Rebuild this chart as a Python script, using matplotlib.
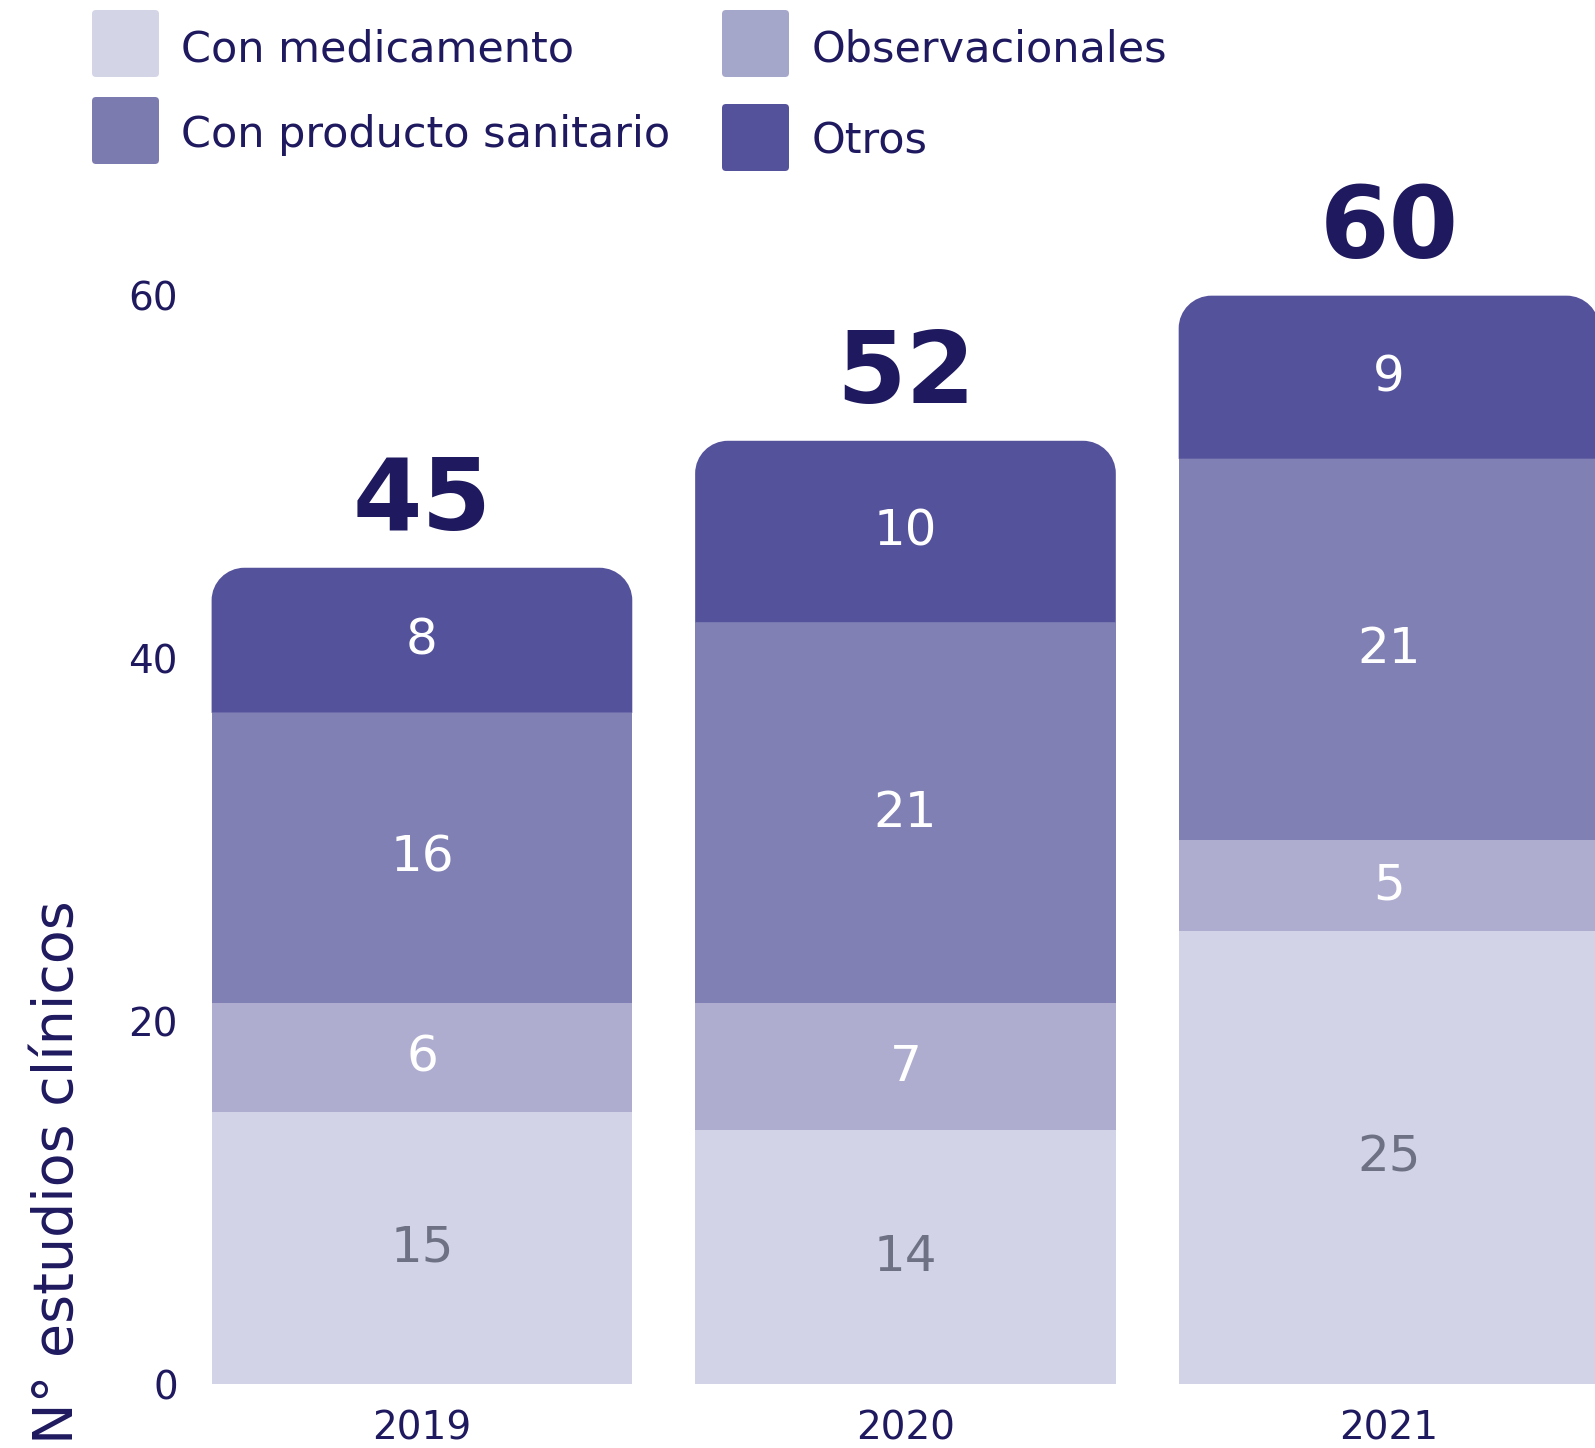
import matplotlib.pyplot as plt
from matplotlib.patches import FancyBboxPatch, PathPatch
from matplotlib.path import Path

years = ["2019", "2020", "2021"]
con_medicamento = [15, 14, 25]
observacionales = [6, 7, 5]
producto_sanitario = [16, 21, 21]
otros = [8, 10, 9]

series = [
    ("Con medicamento", con_medicamento, "#D2D3E6", "#6E7083"),
    ("Observacionales", observacionales, "#AEADD0", "white"),
    ("Con producto sanitario", producto_sanitario, "#8080B4", "white"),
    ("Otros", otros, "#55529C", "white"),
]
legend_colors = {"Con medicamento": "#D3D4E6", "Observacionales": "#A4A6CA",
                 "Con producto sanitario": "#7B7BB0", "Otros": "#55529C"}
dark = "#1F1A5F"


def rounded_top(x0, x1, y0, y1, rx, ry):
    # rectangle with only the two upper corners rounded (elliptic, data units)
    k = 0.5523
    verts = [(x0, y0), (x0, y1 - ry),
             (x0, y1 - ry + k * ry), (x0 + rx - k * rx, y1), (x0 + rx, y1),
             (x1 - rx, y1),
             (x1 - rx + k * rx, y1), (x1, y1 - ry + k * ry), (x1, y1 - ry),
             (x1, y0), (x0, y0)]
    codes = [Path.MOVETO, Path.LINETO,
             Path.CURVE4, Path.CURVE4, Path.CURVE4,
             Path.LINETO,
             Path.CURVE4, Path.CURVE4, Path.CURVE4,
             Path.LINETO, Path.CLOSEPOLY]
    return Path(verts, codes)


W, H = 1595, 1448
fig = plt.figure(figsize=(W / 100, H / 100), dpi=100)
ax = fig.add_axes([200 / W, 64 / H, 1 - 200 / W, 1 - 64 / H])
ax.set_xlim(-0.459, 2.426)
ax.set_ylim(0, 76.3)

width = 0.87
xs = range(len(years))
rx, ry = 0.068, 1.8

bottoms = [0] * len(years)
for i, (name, vals, color, tcolor) in enumerate(series):
    last = i == len(series) - 1
    for x, v, b in zip(xs, vals, bottoms):
        if last:
            p = rounded_top(x - width / 2, x + width / 2, b, b + v, rx, ry)
            ax.add_patch(PathPatch(p, facecolor=color, edgecolor="none", zorder=2))
        else:
            ax.bar(x, v, width=width, bottom=b, color=color, zorder=2)
        ax.text(x, b + v / 2, str(v), ha="center", va="center",
                fontsize=36, color=tcolor, zorder=3)
    bottoms = [b + v for b, v in zip(bottoms, vals)]

for x, total in zip(xs, bottoms):
    ax.text(x, total + 3.6, str(total), ha="center", va="center",
            fontsize=72, fontweight="bold", color=dark)

ax.set_xticks(list(xs))
ax.set_xticklabels(years, fontsize=28, color=dark)
ax.set_yticks([0, 20, 40, 60])
ax.set_yticklabels(["0", "20", "40", "60"], fontsize=28, color=dark)
ax.tick_params(length=0)
ax.tick_params(axis="x", pad=18)
ax.tick_params(axis="y", pad=16)
for s in ax.spines.values():
    s.set_visible(False)

fig.text(58 / W, 1 - 1172 / H, "N° estudios clínicos", rotation=90,
         ha="center", va="center", fontsize=40, color=dark)

# legend drawn by hand in pixel positions (inches via dpi_scale_trans)
legend_items = [
    ("Con medicamento", 92, 10, 181, 49),
    ("Con producto sanitario", 92, 97, 181, 135),
    ("Observacionales", 722, 10, 812, 49),
    ("Otros", 722, 104, 812, 142),
]
for name, sx, sy, tx, ty in legend_items:
    sq = FancyBboxPatch((sx / 100, (H - sy - 67) / 100), 0.67, 0.67,
                        boxstyle="round,pad=0,rounding_size=0.04",
                        facecolor=legend_colors[name], edgecolor="none",
                        transform=fig.dpi_scale_trans)
    fig.add_artist(sq)
    fig.text(tx / W, 1 - ty / H, name, ha="left", va="center",
             fontsize=31, color=dark)

fig.savefig("out.png", dpi=100)
